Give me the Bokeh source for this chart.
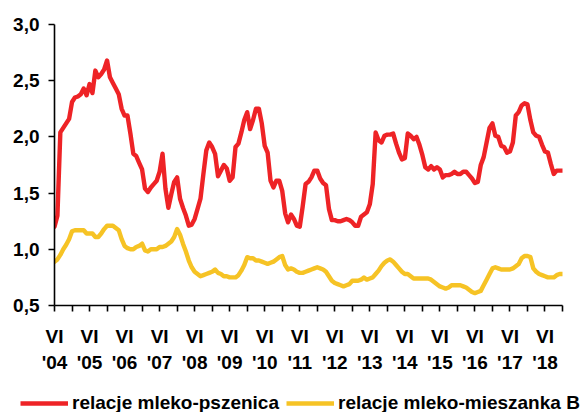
from bokeh.plotting import figure
from bokeh.layouts import column
from bokeh.models import (Range1d, LinearAxis, FixedTicker, CustomJSTickFormatter,
                          Legend, LegendItem)
from bokeh.embed import file_html
from bokeh.resources import INLINE

# months counted from June 2004 (index 0) to December 2018 (index 174)
mleko_pszenica = [
    1.20, 1.30, 2.04, 2.08, 2.12, 2.16, 2.31, 2.35, 2.36, 2.38,
    2.43, 2.37, 2.47, 2.39, 2.59, 2.53, 2.56, 2.60, 2.68, 2.53,
    2.48, 2.43, 2.38, 2.25, 2.19, 2.19, 2.03, 1.85, 1.83, 1.77,
    1.71, 1.54, 1.51, 1.55, 1.58, 1.61, 1.69, 1.85, 1.54, 1.37,
    1.49, 1.60, 1.64, 1.45, 1.37, 1.30, 1.21, 1.22, 1.27, 1.36,
    1.45, 1.67, 1.88, 1.95, 1.91, 1.85, 1.65, 1.70, 1.75, 1.72,
    1.61, 1.64, 1.91, 1.94, 2.04, 2.15, 2.22, 2.07, 2.15, 2.25,
    2.25, 2.12, 1.92, 1.86, 1.61, 1.55, 1.61, 1.61, 1.52, 1.32,
    1.24, 1.31, 1.27, 1.21, 1.20, 1.38, 1.58, 1.60, 1.64, 1.70,
    1.70, 1.63, 1.59, 1.57, 1.36, 1.26, 1.26, 1.25, 1.25, 1.26,
    1.27, 1.26, 1.24, 1.21, 1.21, 1.29, 1.31, 1.33, 1.40, 1.58,
    2.04, 1.97, 1.95, 2.01, 2.02, 2.02, 2.03, 1.94, 1.86, 1.80,
    1.81, 2.03, 2.01, 1.98, 2.00, 1.93, 1.84, 1.73, 1.71, 1.74,
    1.71, 1.73, 1.71, 1.64, 1.66, 1.66, 1.67, 1.69, 1.67, 1.67,
    1.69, 1.69, 1.66, 1.63, 1.59, 1.60, 1.75, 1.82, 1.95, 2.08,
    2.12, 2.01, 2.00, 1.92, 1.91, 1.86, 1.87, 1.95, 2.19, 2.22,
    2.28, 2.30, 2.29, 2.15, 2.04, 2.01, 2.00, 1.93, 1.87, 1.86,
    1.76, 1.67, 1.70, 1.70, 1.70,
]

mleko_mieszanka_b = [
    0.89, 0.91, 0.95, 1.00, 1.04, 1.09, 1.16, 1.17, 1.17, 1.17,
    1.17, 1.14, 1.14, 1.14, 1.11, 1.11, 1.14, 1.18, 1.21, 1.21,
    1.21, 1.19, 1.17, 1.09, 1.03, 1.01, 1.00, 1.00, 1.02, 1.03,
    1.05, 0.99, 0.98, 1.00, 1.00, 1.00, 1.02, 1.02, 1.03, 1.05,
    1.07, 1.11, 1.18, 1.13, 1.05, 0.98, 0.90, 0.84, 0.80, 0.78,
    0.76, 0.77, 0.78, 0.79, 0.80, 0.82, 0.79, 0.78, 0.76, 0.76,
    0.75, 0.75, 0.75, 0.77, 0.81, 0.86, 0.93, 0.92, 0.92, 0.90,
    0.90, 0.89, 0.88, 0.87, 0.88, 0.89, 0.91, 0.93, 0.94, 0.86,
    0.82, 0.83, 0.82, 0.80, 0.79, 0.79, 0.80, 0.81, 0.82, 0.83,
    0.84, 0.83, 0.82, 0.80, 0.76, 0.72, 0.70, 0.69, 0.68, 0.67,
    0.68, 0.69, 0.72, 0.72, 0.72, 0.73, 0.75, 0.73, 0.74, 0.75,
    0.78, 0.81, 0.85, 0.88, 0.90, 0.91, 0.89, 0.86, 0.83, 0.80,
    0.78, 0.78, 0.76, 0.74, 0.74, 0.74, 0.74, 0.74, 0.74, 0.73,
    0.71, 0.69, 0.67, 0.66, 0.65, 0.66, 0.68, 0.68, 0.68, 0.68,
    0.67, 0.66, 0.64, 0.62, 0.61, 0.62, 0.63, 0.68, 0.73, 0.78,
    0.83, 0.84, 0.83, 0.82, 0.82, 0.82, 0.82, 0.83, 0.85, 0.87,
    0.92, 0.94, 0.94, 0.93, 0.83, 0.80, 0.78, 0.77, 0.76, 0.75,
    0.75, 0.75, 0.77, 0.78, 0.78,
]

months = list(range(len(mleko_pszenica)))

label_months = [0, 12, 24, 36, 48, 60, 72, 84, 96, 108, 120, 132, 144, 156, 168]
half_year_months = [6, 18, 30, 42, 54, 66, 78, 90, 102, 114, 126, 138, 150, 162, 174]
month_labels = ["VI"] * 15
year_labels = ["'04", "'05", "'06", "'07", "'08", "'09", "'10", "'11", "'12",
               "'13", "'14", "'15", "'16", "'17", "'18"]
y_ticks = [0.5, 1.0, 1.5, 2.0, 2.5, 3.0]

series_names = ["relacje mleko-pszenica", "relacje mleko-mieszanka B"]

FONT = "Liberation Sans"
RED = "#EE2326"
YELLOW = "#F6C325"
LW = 4.4
TICK_FONT = "19px"

p = figure(width=585, height=378, output_backend="svg", toolbar_location=None,
           x_range=Range1d(0, months[-1]), y_range=Range1d(0.5, 3.0),
           min_border_left=54, min_border_right=23, min_border_top=24,
           min_border_bottom=73)
p.outline_line_color = None
p.xgrid.visible = False
p.ygrid.visible = False
p.frame_align = False

p.line(months, mleko_pszenica, line_color=RED, line_width=LW,
       line_join="round", line_cap="round")
p.line(months, mleko_mieszanka_b, line_color=YELLOW, line_width=LW,
       line_join="round", line_cap="round")

# y axis
ya = p.yaxis[0]
ya.ticker = FixedTicker(ticks=y_ticks, minor_ticks=[])
ya.formatter = CustomJSTickFormatter(code="return tick.toFixed(1).replace('.', ',');")
ya.axis_line_width = 1.6
ya.axis_line_color = "black"
ya.major_tick_line_width = 1.6
ya.major_tick_out = 6
ya.major_tick_in = 0
ya.minor_tick_line_color = None
ya.major_label_standoff = 9
ya.major_label_text_font = FONT
ya.major_label_text_font_style = "bold"
ya.major_label_text_font_size = TICK_FONT
ya.major_label_text_color = "black"

# x axis (month row)
xa = p.xaxis[0]
xa.ticker = FixedTicker(ticks=label_months, minor_ticks=half_year_months)
xa.major_label_overrides = dict(zip(label_months, month_labels))
xa.axis_line_width = 1.6
xa.axis_line_color = "black"
xa.major_tick_line_width = 1.6
xa.major_tick_out = 6
xa.major_tick_in = 0
xa.minor_tick_line_width = 1.6
xa.minor_tick_line_color = "black"
xa.minor_tick_out = 6
xa.minor_tick_in = 0
xa.major_label_standoff = 14
xa.major_label_text_font = FONT
xa.major_label_text_font_style = "bold"
xa.major_label_text_font_size = TICK_FONT
xa.major_label_text_color = "black"

# x axis (year row)
xa2 = LinearAxis(ticker=FixedTicker(ticks=label_months, minor_ticks=[]))
xa2.major_label_overrides = dict(zip(label_months, year_labels))
xa2.axis_line_color = None
xa2.major_tick_line_color = None
xa2.major_tick_out = 0
xa2.major_tick_in = 0
xa2.minor_tick_line_color = None
xa2.minor_tick_out = 0
xa2.major_label_standoff = 2
xa2.major_label_text_font = FONT
xa2.major_label_text_font_style = "bold"
xa2.major_label_text_font_size = TICK_FONT
xa2.major_label_text_color = "black"
p.add_layout(xa2, "below")

# legend strip under the chart (swatch renderers hold no visible data)
nan = float("nan")
pl = figure(width=585, height=34, output_backend="svg", toolbar_location=None,
            x_range=Range1d(0, 1), y_range=Range1d(0, 1),
            min_border=0, min_border_left=0, min_border_right=0,
            min_border_top=0, min_border_bottom=0,
            x_axis_location=None, y_axis_location=None)
pl.outline_line_color = None
pl.xgrid.visible = False
pl.ygrid.visible = False
pl.frame_align = False
k1 = pl.line(x=[nan], y=[nan], line_color=RED, line_width=LW)
k2 = pl.line(x=[nan], y=[nan], line_color=YELLOW, line_width=LW)
legend = Legend(items=[LegendItem(label=series_names[0], renderers=[k1]),
                       LegendItem(label=series_names[1], renderers=[k2])],
                location=(20, -2), orientation="horizontal",
                label_text_font=FONT, label_text_font_style="bold",
                label_text_font_size="19px", label_text_color="black",
                glyph_width=48, glyph_height=20, label_standoff=4, spacing=7,
                padding=0, margin=0, border_line_color=None,
                background_fill_alpha=0)
pl.add_layout(legend, "center")

open("out.html", "w").write(file_html(column(p, pl, spacing=0), INLINE))
